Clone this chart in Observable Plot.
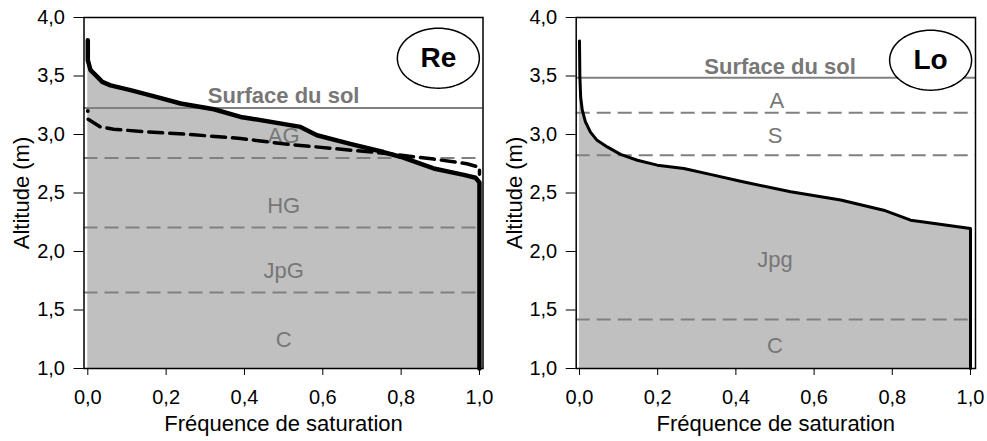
<!DOCTYPE html>
<html>
<head>
<meta charset="utf-8">
<script src="https://cdn.jsdelivr.net/npm/d3@7"></script>
<script src="https://cdn.jsdelivr.net/npm/@observablehq/plot@0.6"></script>
<style>
  html, body { margin: 0; padding: 0; background: #fff; }
  #wrap { display: flex; width: 987px; height: 441px; font-family: "Liberation Sans", Arial, sans-serif; }
  g[aria-label="y-axis label"] text, g[aria-label="x-axis label"] text { font-size: 22px; }
</style>
</head>
<body>
<div id="wrap"></div>
<script>
// ---- Data ----
const xTicks = [0, 0.2, 0.4, 0.6, 0.8, 1.0];
const yTicks = [1.0, 1.5, 2.0, 2.5, 3.0, 3.5, 4.0];

// Panel "Re"
const reFreq = [0, 0, 0.007, 0.02, 0.037, 0.058, 0.109, 0.177, 0.237, 0.322, 0.39, 0.415, 0.543, 0.585, 0.67, 0.755, 0.798, 0.883, 0.96, 0.99, 1.0, 1.0];
const reAlt  = [3.806, 3.635, 3.55, 3.507, 3.45, 3.42, 3.379, 3.32, 3.265, 3.216, 3.15, 3.137, 3.065, 2.994, 2.92, 2.85, 2.81, 2.71, 2.655, 2.63, 2.59, 1.0];
const reDashFreq = [0.001, 0.032, 0.066, 0.151, 0.262, 0.39, 0.5, 0.628, 0.755, 0.883, 0.968, 1.0, 1.0];
const reDashAlt  = [3.13, 3.065, 3.045, 3.022, 3.0, 2.966, 2.92, 2.88, 2.84, 2.79, 2.75, 2.72, 2.66];
const reDotFreq = [0];
const reDotAlt = [3.2];
const reSurface = 3.227;
const reBounds = [2.80, 2.205, 1.65];
const reHorizons = ["Surface du sol", "AG", "HG", "JpG", "C"];
const reHorizonAlt = [3.33, 2.985, 2.39, 1.83, 1.24];
const reHorizonFreq = [0.5, 0.5, 0.5, 0.5, 0.5];

// Panel "Lo"
const loFreq = [0, 0.001, 0.003, 0.007, 0.015, 0.028, 0.045, 0.071, 0.105, 0.148, 0.199, 0.267, 0.34, 0.412, 0.54, 0.668, 0.778, 0.847, 0.88, 1.0, 1.0];
const loAlt  = [3.80, 3.49, 3.32, 3.21, 3.11, 3.02, 2.95, 2.894, 2.83, 2.78, 2.738, 2.71, 2.655, 2.60, 2.51, 2.44, 2.353, 2.268, 2.253, 2.197, 1.0];
const loSurface = 3.484;
const loBounds = [3.185, 2.823, 1.419];
const loHorizons = ["Surface du sol", "A", "S", "Jpg", "C"];
const loHorizonAlt = [3.575, 3.29, 2.985, 1.93, 1.19];
const loHorizonFreq = [0.513, 0.505, 0.5, 0.5, 0.5];

const panelNames = ["Re", "Lo"];
const panelNameFreq = [0.895, 0.898];
const panelNameAlt = [3.652, 3.635];

// ---- Helpers ----
const fmt = (d) => d3.format(".1f")(d).replace(".", ",");
const zip = (xs, ys) => xs.map((x, i) => ({f: x, a: ys[i]}));
const GREY = "#808080";
const ellipse = {
  draw(ctx) {
    const rx = 41, ry = 30, n = 72;
    ctx.moveTo(rx, 0);
    for (let i = 1; i <= n; i++) {
      const t = (i / n) * 2 * Math.PI;
      ctx.lineTo(rx * Math.cos(t), ry * Math.sin(t));
    }
    ctx.closePath();
  }
};

function panel(o) {
  const curve = zip(o.freq, o.alt);
  const horizons = o.hNames.map((t, i) => ({t, f: o.hFreq[i], a: o.hAlt[i], bold: i === 0}));
  const marks = [
    Plot.areaX(curve, {x1: 0, x2: "f", y: "a", fill: "#c0c0c0"}),
    Plot.ruleY([o.surface], {stroke: GREY, strokeWidth: 2}),
    Plot.ruleY(o.bounds, {stroke: GREY, strokeWidth: 2, strokeDasharray: "14,7"}),
    Plot.text(horizons.filter(d => !d.bold), {x: "f", y: "a", text: "t", fill: "#777", fontSize: 22}),
    Plot.text(horizons.filter(d => d.bold), {x: "f", y: "a", text: "t", fill: "#777", fontSize: 22, fontWeight: "bold"}),
  ];
  if (o.dash) {
    marks.push(Plot.line(zip(o.dash[0], o.dash[1]), {x: "f", y: "a", stroke: "black", strokeWidth: 3.5, strokeDasharray: "14,7"}));
    marks.push(Plot.dot(zip(o.dot[0], o.dot[1]), {x: "f", y: "a", r: 2, fill: "black"}));
  }
  marks.push(
    Plot.line(curve, {x: "f", y: "a", stroke: "black", strokeWidth: o.lineWidth, strokeLinejoin: "round"}),
    Plot.frame({stroke: "black", strokeWidth: 1.5}),
    Plot.dot([{f: o.nameF, a: o.nameA}], {x: "f", y: "a", symbol: ellipse, r: 10, fill: "white", stroke: "black", strokeWidth: 1.5}),
    Plot.text([{f: o.nameF, a: o.nameA, t: o.name}], {x: "f", y: "a", text: "t", fontSize: 28, fontWeight: "bold", fill: "black"}),
    Plot.axisY({ticks: yTicks, tickFormat: fmt, tickSize: 10, tickPadding: 9, fontSize: 20, stroke: "black",
      label: "Altitude (m)", labelAnchor: "center", labelArrow: "none", labelOffset: o.marginLeft - 13}),
    Plot.axisX({ticks: xTicks, tickFormat: fmt, tickSize: 7, tickPadding: 14, fontSize: 20, stroke: "black",
      label: "Fréquence de saturation", labelAnchor: "center", labelArrow: "none", labelOffset: 62})
  );
  return Plot.plot({
    width: o.width,
    height: 441,
    marginLeft: o.marginLeft,
    marginRight: o.marginRight,
    marginTop: 17,
    marginBottom: 73,
    style: {fontFamily: "Liberation Sans, Arial, sans-serif", color: "black", background: "white", overflow: "visible"},
    x: {domain: o.xDomain},
    y: {domain: [1, 4]},
    marks
  });
}

const wrap = document.getElementById("wrap");
wrap.appendChild(panel({
  width: 493, marginLeft: 83.5, marginRight: 10.5, xDomain: [-0.0097, 1.009],
  freq: reFreq, alt: reAlt, dash: [reDashFreq, reDashAlt], dot: [reDotFreq, reDotAlt],
  surface: reSurface, bounds: reBounds, hNames: reHorizons, hAlt: reHorizonAlt, hFreq: reHorizonFreq,
  lineWidth: 4.5, name: panelNames[0], nameF: panelNameFreq[0], nameA: panelNameAlt[0]
}));
wrap.appendChild(panel({
  width: 494, marginLeft: 82.7, marginRight: 12, xDomain: [-0.0084, 1.0128],
  freq: loFreq, alt: loAlt,
  surface: loSurface, bounds: loBounds, hNames: loHorizons, hAlt: loHorizonAlt, hFreq: loHorizonFreq,
  lineWidth: 3, name: panelNames[1], nameF: panelNameFreq[1], nameA: panelNameAlt[1]
}));
</script>
</body>
</html>
